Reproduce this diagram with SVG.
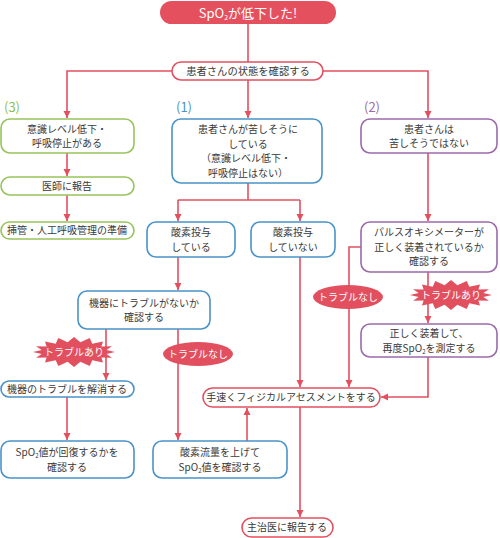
<svg xmlns="http://www.w3.org/2000/svg" width="500" height="538" viewBox="0 0 500 538">
<style>
text{font-family:"Noto Sans CJK JP","Noto Sans",sans-serif;font-size:10px;fill:#3a3a3a;text-anchor:middle}
.w{fill:#fff}
.box{fill:#fff;stroke-width:1.6}
.pk{stroke:#e2505f}
.gr{stroke:#97c45a}
.bl{stroke:#4a93c8}
.pu{stroke:#9a6aaa}
.con{fill:none;stroke:#e2505f;stroke-width:1.6}
.lbl{font-size:13px;text-anchor:start}
.sub{font-size:6px}
</style>
<defs>
<marker id="ah" markerWidth="8" markerHeight="8" refX="7" refY="4" orient="auto" markerUnits="userSpaceOnUse">
<path d="M0,0.5 L7,4 L0,7.5 Z" fill="#e2505f"/>
</marker>
<polygon id="burst" fill="#e2505f" points="41,0 32.4,2 37.9,5.7 27.4,5.6 29,10.6 18.3,8.3 15.7,13.9 6.4,9.8 0,15 -6.4,9.8 -15.7,13.9 -18.3,8.3 -29,10.6 -27.4,5.6 -37.9,5.7 -32.4,2 -41,0 -32.4,-2 -37.9,-5.7 -27.4,-5.6 -29,-10.6 -18.3,-8.3 -15.7,-13.9 -6.4,-9.8 0,-15 6.4,-9.8 15.7,-13.9 18.3,-8.3 29,-10.6 27.4,-5.6 37.9,-5.7 32.4,-2"/>
</defs>
<rect width="500" height="538" fill="#fff"/>

<g id="connectors">
<path class="con" d="M248,24 V62"/>
<path class="con" d="M172,71 H67 V118" marker-end="url(#ah)"/>
<path class="con" d="M248,80 V118" marker-end="url(#ah)"/>
<path class="con" d="M323,71 H428 V118" marker-end="url(#ah)"/>
<path class="con" d="M67,153 V176" marker-end="url(#ah)"/>
<path class="con" d="M67,195 V221" marker-end="url(#ah)"/>
<path class="con" d="M248,183 V200"/>
<path class="con" d="M178,200 H300"/>
<path class="con" d="M178,200 V221" marker-end="url(#ah)"/>
<path class="con" d="M300,200 V221" marker-end="url(#ah)"/>
<path class="con" d="M428,153 V221" marker-end="url(#ah)"/>
<path class="con" d="M178,257 V290" marker-end="url(#ah)"/>
<path class="con" d="M106,329 V380" marker-end="url(#ah)"/>
<path class="con" d="M178,329 V440" marker-end="url(#ah)"/>
<path class="con" d="M67,397 V440" marker-end="url(#ah)"/>
<path class="con" d="M247,441 V408" marker-end="url(#ah)"/>
<path class="con" d="M300,257 V387" marker-end="url(#ah)"/>
<path class="con" d="M361,247 H349 V387" marker-end="url(#ah)"/>
<path class="con" d="M428,272 V323" marker-end="url(#ah)"/>
<path class="con" d="M428,357 V397 H381" marker-end="url(#ah)"/>
<path class="con" d="M300,407 V517" marker-end="url(#ah)"/>
</g>

<g id="n-top">
<rect x="160" y="1" width="176" height="23" rx="11.5" fill="#e5505e"/>
<text class="w" x="248" y="17.5" style="font-size:13px">SpO<tspan style="font-size:7px" dy="2">2</tspan><tspan dy="-2">が低下した!</tspan></text>
</g>
<g id="n-check">
<rect class="box pk" x="172" y="62" width="151" height="18" rx="9"/>
<text x="248" y="75" style="font-size:10.3px">患者さんの状態を確認する</text>
</g>

<text class="lbl" x="4" y="112" style="fill:#8cbf4c">(3)</text>
<text class="lbl" x="176" y="112" style="fill:#4a93c8">(1)</text>
<text class="lbl" x="364" y="112" style="fill:#9a6aaa">(2)</text>

<g id="n-g1">
<rect class="box gr" x="1" y="119" width="133" height="34" rx="9"/>
<text x="67" y="132.5">意識レベル低下・</text>
<text x="67" y="147">呼吸停止がある</text>
</g>
<g id="n-g2">
<rect class="box gr" x="1" y="177" width="133" height="18" rx="9"/>
<text x="67" y="190">医師に報告</text>
</g>
<g id="n-g3">
<rect class="box gr" x="1" y="222" width="133" height="17" rx="8.5"/>
<text x="67" y="234">挿管・人工呼吸管理の準備</text>
</g>

<g id="n-b1">
<rect class="box bl" x="172" y="119" width="150" height="64" rx="9"/>
<text x="248" y="133">患者さんが苦しそうに</text>
<text x="248" y="147.5">している</text>
<text x="246" y="162">（意識レベル低下・</text>
<text x="248" y="176.5">呼吸停止はない）</text>
</g>
<g id="n-p1">
<rect class="box pu" x="361" y="119" width="136" height="34" rx="9"/>
<text x="429" y="132.5">患者さんは</text>
<text x="429" y="147">苦しそうではない</text>
</g>

<g id="n-b2">
<rect class="box bl" x="147" y="222" width="88" height="35" rx="9"/>
<text x="191" y="236">酸素投与</text>
<text x="191" y="250.5">している</text>
</g>
<g id="n-b3">
<rect class="box bl" x="251" y="222" width="84" height="35" rx="9"/>
<text x="293" y="236">酸素投与</text>
<text x="293" y="250.5">していない</text>
</g>
<g id="n-p2">
<rect class="box pu" x="361" y="222" width="136" height="50" rx="9"/>
<text x="429" y="236.3">パルスオキシメーターが</text>
<text x="429" y="250.8">正しく装着されているか</text>
<text x="429" y="265.3">確認する</text>
</g>

<g id="n-b4">
<rect class="box bl" x="78" y="291" width="132" height="38" rx="9"/>
<text x="144" y="306.5">機器にトラブルがないか</text>
<text x="144" y="321">確認する</text>
</g>

<g id="n-burst-l">
<use href="#burst" x="74" y="352"/>
<text class="w" x="74" y="355.5">トラブルあり</text>
</g>
<g id="n-oval-l">
<ellipse cx="198" cy="354" rx="35" ry="12" fill="#e2505f"/>
<text class="w" x="198" y="357.5">トラブルなし</text>
</g>
<g id="n-oval-r">
<ellipse cx="348" cy="297" rx="35" ry="12" fill="#e2505f"/>
<text class="w" x="348" y="300.5">トラブルなし</text>
</g>
<g id="n-burst-r">
<use href="#burst" x="451" y="295"/>
<text class="w" x="451" y="298.5">トラブルあり</text>
</g>

<g id="n-p3">
<rect class="box pu" x="361" y="324" width="136" height="33" rx="9"/>
<text x="429" y="337">正しく装着して、</text>
<text x="429" y="351.5">再度SpO<tspan class="sub" dy="2">2</tspan><tspan dy="-2">を測定する</tspan></text>
</g>

<g id="n-b5">
<rect class="box bl" x="1" y="381" width="133" height="16" rx="8"/>
<text x="67" y="392.5">機器のトラブルを解消する</text>
</g>

<g id="n-pa">
<rect class="box pk" x="203" y="388" width="177" height="19" rx="9.5"/>
<text x="291" y="401.3">手速くフィジカルアセスメントをする</text>
</g>

<g id="n-b6">
<rect class="box bl" x="1" y="441" width="133" height="37" rx="9"/>
<text x="67" y="456">SpO<tspan class="sub" dy="2">2</tspan><tspan dy="-2">値が回復するかを</tspan></text>
<text x="67" y="470.5">確認する</text>
</g>
<g id="n-b7">
<rect class="box bl" x="153" y="441" width="134" height="37" rx="9"/>
<text x="220" y="456">酸素流量を上げて</text>
<text x="220" y="470.5">SpO<tspan class="sub" dy="2">2</tspan><tspan dy="-2">値を確認する</tspan></text>
</g>

<g id="n-end">
<rect class="box pk" x="242" y="518" width="91" height="19" rx="9.5"/>
<text x="287" y="531">主治医に報告する</text>
</g>
</svg>
